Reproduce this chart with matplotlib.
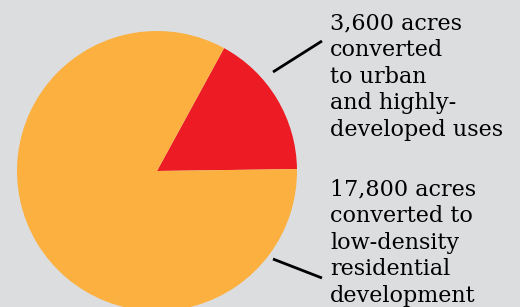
import matplotlib.pyplot as plt

# acres converted
values = [3600, 17800]
colors = ["#ed1c24", "#fbb040"]
labels = [
    ["3,600 acres", "converted", "to urban", "and highly-", "developed uses"],
    ["17,800 acres", "converted to", "low-density", "residential", "development"],
]

W, H = 520, 307
fig = plt.figure(figsize=(W / 100, H / 100), dpi=100)
fig.patch.set_facecolor("#dcdddf")
ax = fig.add_axes([0, 0, 1, 1])
ax.set_facecolor("#dcdddf")

# y axis runs downward so everything is in pixel coords
ax.pie(values, colors=colors, center=(157, 171), radius=140,
       startangle=-0.8, counterclock=False,
       wedgeprops=dict(linewidth=0, antialiased=True))
ax.set_xlim(0, W)
ax.set_ylim(H, 0)
ax.set_aspect("equal")
ax.axis("off")

# leader lines
ax.plot([273, 322], [72, 41], color="black", lw=2, solid_capstyle="butt")
ax.plot([273, 322], [259, 278], color="black", lw=2, solid_capstyle="butt")

first_baselines = [29, 195]
step = 26.8
for lines, y0 in zip(labels, first_baselines):
    for i, s in enumerate(lines):
        ax.text(330, y0 + i * step, s, ha="left", va="baseline",
                fontsize=16, family="DejaVu Serif", color="black")

fig.savefig("out.png", dpi=100, facecolor=fig.get_facecolor())
